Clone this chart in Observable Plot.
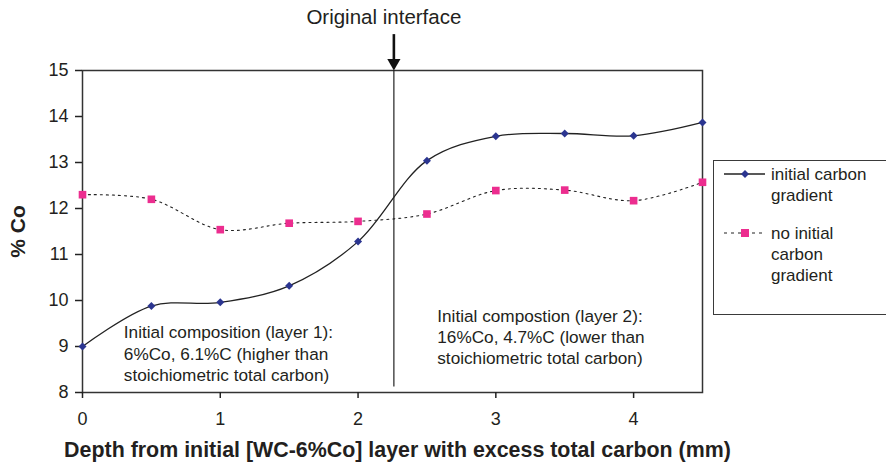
<!DOCTYPE html>
<html>
<head>
<meta charset="utf-8">
<script src="https://cdn.jsdelivr.net/npm/d3@7"></script>
<script src="https://cdn.jsdelivr.net/npm/@observablehq/plot@0.6"></script>
<style>
  body { margin: 0; background: #fff; }
  #wrap { position: relative; width: 886px; height: 465px; overflow: hidden; font-family: "Liberation Sans", Arial, sans-serif; color: #231f20; }
  #legend { position: absolute; left: 713px; top: 160px; width: 190px; height: 155px; border: 1.5px solid #3a3a3a; box-sizing: border-box; }
</style>
</head>
<body>
<div id="wrap"></div>
<script>
// ---- data ----
const depth = [0, 0.5, 1, 1.5, 2, 2.5, 3, 3.5, 4, 4.5];
const coWithGradient = [9.0, 9.88, 9.96, 10.32, 11.28, 13.04, 13.57, 13.63, 13.58, 13.87];
const coNoGradient = [12.30, 12.20, 11.54, 11.68, 11.72, 11.88, 12.39, 12.40, 12.17, 12.57];
const seriesNames = ["initial carbon gradient", "no initial carbon gradient"];
const xTicks = [0, 1, 2, 3, 4];
const yTicks = [8, 9, 10, 11, 12, 13, 14, 15];
const interfaceDepth = [2.26];
const annotations = [
  {x: 0.30, y: 9.51, text: "Initial composition (layer 1):\n6%Co, 6.1%C (higher than\nstoichiometric total carbon)"},
  {x: 2.575, y: 9.87, text: "Initial compostion (layer 2):\n16%Co, 4.7%C (lower than\nstoichiometric total carbon)"}
];

const rowsA = depth.map((d, i) => ({depth: d, co: coWithGradient[i]}));
const rowsB = depth.map((d, i) => ({depth: d, co: coNoGradient[i]}));

const ink = "#231f20";
const navy = "#2b3590";
const pink = "#ec2d8f";
const font = "'Liberation Sans', Arial, sans-serif";

const chart = Plot.plot({
  width: 886,
  height: 465,
  marginLeft: 82,
  marginRight: 184,
  marginTop: 70,
  marginBottom: 73,
  style: {fontFamily: font, color: ink, background: "#fff", overflow: "visible"},
  x: {domain: [0, 4.5]},
  y: {domain: [8, 15]},
  marks: [
    Plot.frame({stroke: "#333", strokeWidth: 1.5}),
    Plot.axisY({ticks: yTicks, tickFormat: d => String(d), tickSize: 7, tickPadding: 7, fontSize: 18, label: null, stroke: "#222", strokeWidth: 1.5}),
    Plot.axisX({ticks: xTicks, tickFormat: d => String(d), tickSize: 6, tickPadding: 14, fontSize: 18, label: null, stroke: "#222", strokeWidth: 1.5}),
    Plot.text(["% Co"], {frameAnchor: "left", textAnchor: "middle", dx: -64, rotate: -90, fontWeight: "bold", fontSize: 21, fill: ink}),
    Plot.text(["Depth from initial [WC-6%Co] layer with excess total carbon (mm)"], {frameAnchor: "bottom", lineAnchor: "bottom", dy: 64, dx: 5, fontWeight: "bold", fontSize: 21.4, fill: ink}),
    // interface line + arrow
    Plot.ruleX(interfaceDepth, {x: d => d, y1: 8.12, y2: 15, stroke: "#222", strokeWidth: 1.2}),
    Plot.ruleX(interfaceDepth, {x: d => d, y1: 15.78, y2: 15.2, stroke: "#111", strokeWidth: 2.6}),
    Plot.dot(interfaceDepth, {x: d => d, y: () => 15, symbol: "triangle", r: 4.9, rotate: 180, dy: -7.6, fill: "#111", stroke: "none"}),
    Plot.text(interfaceDepth, {x: d => d, frameAnchor: "top", lineAnchor: "top", dy: -61, dx: -10, text: () => "Original interface", fontSize: 20.5, fill: ink}),
    // annotations
    Plot.text(annotations, {x: "x", y: "y", text: "text", textAnchor: "start", lineAnchor: "top", lineHeight: 1.24, fontSize: 17.2, fill: ink}),
    // series
    Plot.line(rowsB, {x: "depth", y: "co", curve: "catmull-rom", stroke: "#222", strokeWidth: 1.1, strokeDasharray: "2,4"}),
    Plot.line(rowsA, {x: "depth", y: "co", curve: "catmull-rom", stroke: "#222", strokeWidth: 1.3}),
    Plot.dot(rowsB, {x: "depth", y: "co", symbol: "square", r: 4.3, fill: pink, stroke: "none"}),
    Plot.dot(rowsA, {x: "depth", y: "co", symbol: "diamond2", r: 3.6, fill: navy, stroke: "none"})
  ]
});

const wrap = document.getElementById("wrap");
wrap.appendChild(chart);

// legend (HTML overlay)
const legend = document.createElement("div");
legend.id = "legend";
const ns = "http://www.w3.org/2000/svg";
const lsvg = document.createElementNS(ns, "svg");
lsvg.setAttribute("width", 190);
lsvg.setAttribute("height", 155);
lsvg.style.position = "absolute";
lsvg.style.left = "-1.5px";
lsvg.style.top = "-1.5px";
lsvg.style.fontFamily = font;
const entries = [
  {name: seriesNames[0], lines: ["initial carbon", "gradient"], y: 14, dash: null, sym: "diamond", color: navy},
  {name: seriesNames[1], lines: ["no initial", "carbon", "gradient"], y: 73, dash: "3,4", sym: "square", color: pink}
];
for (const e of entries) {
  const ln = document.createElementNS(ns, "line");
  ln.setAttribute("x1", 11); ln.setAttribute("x2", 52);
  ln.setAttribute("y1", e.y); ln.setAttribute("y2", e.y);
  ln.setAttribute("stroke", "#222");
  ln.setAttribute("stroke-width", e.dash ? 1.1 : 1.6);
  if (e.dash) ln.setAttribute("stroke-dasharray", e.dash);
  lsvg.appendChild(ln);
  let m;
  if (e.sym === "diamond") {
    m = document.createElementNS(ns, "path");
    m.setAttribute("d", `M32,${e.y-4}L36,${e.y}L32,${e.y+4}L28,${e.y}Z`);
  } else {
    m = document.createElementNS(ns, "rect");
    m.setAttribute("x", 28); m.setAttribute("y", e.y - 4);
    m.setAttribute("width", 8); m.setAttribute("height", 8);
  }
  m.setAttribute("fill", e.color);
  lsvg.appendChild(m);
  e.lines.forEach((t, i) => {
    const tx = document.createElementNS(ns, "text");
    tx.setAttribute("x", 58);
    tx.setAttribute("y", e.y + i * 21);
    tx.setAttribute("dy", "0.35em");
    tx.setAttribute("font-size", 17);
    tx.setAttribute("fill", ink);
    tx.textContent = t;
    lsvg.appendChild(tx);
  });
}
legend.appendChild(lsvg);
wrap.appendChild(legend);
</script>
</body>
</html>
